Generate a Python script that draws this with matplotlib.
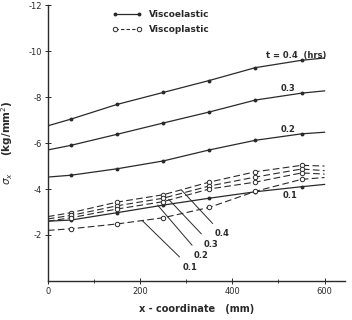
import numpy as np
import matplotlib.pyplot as plt
from matplotlib.lines import Line2D

# x positions (mm) and stress values (read as magnitudes, plotted negative)
x_mm = [0, 50, 150, 250, 350, 450, 550, 600]

ve_t04 = [6.75, 7.04, 7.68, 8.2, 8.72, 9.28, 9.6, 9.7]
ve_t03 = [5.7, 5.9, 6.38, 6.87, 7.35, 7.87, 8.17, 8.27]
ve_t02 = [4.52, 4.6, 4.88, 5.22, 5.7, 6.12, 6.4, 6.47]
ve_t01 = [2.6, 2.65, 2.97, 3.3, 3.6, 3.88, 4.1, 4.2]

vp_t04 = [2.8, 2.97, 3.43, 3.75, 4.3, 4.75, 5.03, 5.0]
vp_t03 = [2.7, 2.85, 3.27, 3.6, 4.13, 4.52, 4.87, 4.8]
vp_t02 = [2.6, 2.75, 3.13, 3.45, 4.0, 4.3, 4.7, 4.65]
vp_t01 = [2.2, 2.27, 2.48, 2.75, 3.2, 3.9, 4.42, 4.5]

ve_series = [ve_t04, ve_t03, ve_t02, ve_t01]
vp_series = [vp_t04, vp_t03, vp_t02, vp_t01]

x_ticks = [0, 200, 400, 600]
y_ticks = [-2, -4, -6, -8, -10, -12]

ink = '#2a2a2a'
plt.rcParams['font.family'] = ['DejaVu Sans']

fig = plt.figure(figsize=(3.52, 3.2), dpi=100)
ax = fig.add_axes([0.136, 0.122, 0.845, 0.862])

for s in ve_series:
    ax.plot(x_mm, -np.array(s), color=ink, lw=0.9, marker='o', ms=1.8,
            markevery=slice(1, 7))
for s in vp_series:
    ax.plot(x_mm, -np.array(s), color=ink, lw=0.8, ls=(0, (6, 3)),
            marker='o', ms=3.2, mfc='white', mew=0.7, markevery=slice(1, 7))

ax.set_xlim(0, 645)
ax.set_ylim(0, -12)
ax.spines['top'].set_visible(False)
ax.spines['right'].set_visible(False)
for sp in ('left', 'bottom'):
    ax.spines[sp].set_color(ink)
    ax.spines[sp].set_linewidth(1.0)

ax.set_xticks(x_ticks)
ax.set_xticklabels([str(v) for v in x_ticks])
ax.set_xticks([100, 300, 500], minor=True)
ax.set_yticks(y_ticks)
ax.set_yticklabels([str(v) for v in y_ticks])
ax.tick_params(axis='both', direction='inout', length=4, width=0.7,
               labelsize=6, colors=ink, pad=2)
ax.tick_params(axis='x', which='minor', direction='inout', length=3, width=0.6,
               colors=ink)

ax.set_xlabel('x - coordinate   (mm)', fontsize=7, fontweight='bold',
              color=ink, labelpad=6)
ax.set_ylabel(r'$\sigma_x$     (kg/mm$^2$)', fontsize=7.5, fontweight='bold',
              color=ink, labelpad=10)

# curve labels for the viscoelastic set
txt = dict(fontsize=6, color=ink, fontweight='bold')
ax.text(472, -9.68, 't = 0.4  (hrs)', **txt)
ax.text(505, -8.25, '0.3', **txt)
ax.text(505, -6.5, '0.2', **txt)
ax.text(510, -3.62, '0.1', **txt)

# leader labels for the viscoplastic set
leaders = [('0.4', (290, -3.95), (362, -2.05)),
           ('0.3', (262, -3.55), (338, -1.6)),
           ('0.2', (238, -3.3), (316, -1.1)),
           ('0.1', (205, -2.62), (292, -0.6))]
for lab, xy, xyt in leaders:
    ax.annotate(lab, xy=xy, xytext=xyt, fontsize=6, color=ink,
                fontweight='bold', va='center',
                arrowprops=dict(arrowstyle='-', color=ink, lw=0.7,
                                shrinkA=3, shrinkB=0))

handles = [Line2D([0], [0], color=ink, lw=0.9, marker='o', ms=1.8),
           Line2D([0], [0], color=ink, lw=0.8, ls=(0, (3, 2)), marker='o',
                  ms=3.2, mfc='white', mew=0.7)]
leg = ax.legend(handles, ['Viscoelastic', 'Viscoplastic'], loc='upper left',
                bbox_to_anchor=(0.19, 1.01), frameon=False, numpoints=2,
                handlelength=3.2, fontsize=6.5, labelspacing=0.6)
for t in leg.get_texts():
    t.set_fontweight('bold')
    t.set_color(ink)

fig.savefig('out.png', dpi=100, facecolor='white')
